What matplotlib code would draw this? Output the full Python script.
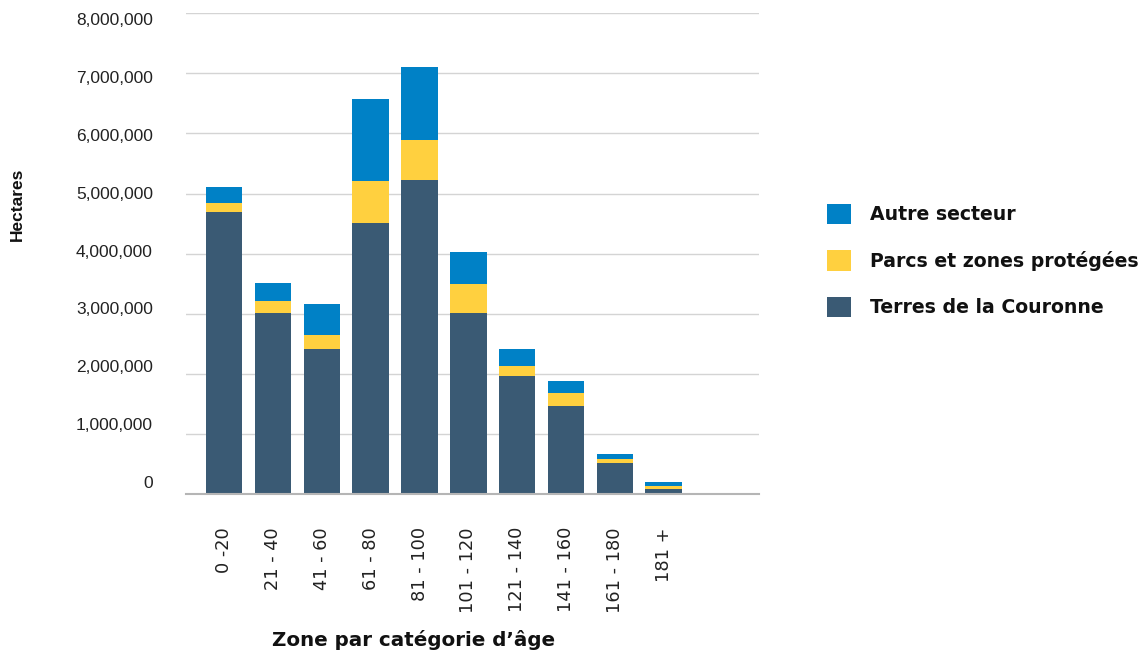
import numpy as np
import matplotlib
matplotlib.use("Agg")
import matplotlib.pyplot as plt
from matplotlib.ticker import FuncFormatter
from matplotlib.transforms import ScaledTranslation

# Age classes (years) and area by tenure (hectares)
categories = ['0 -20', '21 - 40', '41 - 60', '61 - 80', '81 - 100',
              '101 - 120', '121 - 140', '141 - 160', '161 - 180', '181 +']
terres = [4690000, 3020000, 2410000, 4515000, 5220000,
          3020000, 1965000, 1470000, 510000, 83000]
parcs = [150000, 200000, 235000, 700000, 670000,
         480000, 165000, 215000, 67000, 55000]
autre = [275000, 285000, 520000, 1360000, 1215000,
         530000, 285000, 195000, 88000, 57000]
series_labels = ['Terres de la Couronne', 'Parcs et zones protégées', 'Autre secteur']
y_ticks = [0, 1000000, 2000000, 3000000, 4000000, 5000000, 6000000, 7000000, 8000000]

c_dark = '#3a5a74'
c_yellow = '#ffd03f'
c_blue = '#0081c6'

W, H = 1148, 655
fig = plt.figure(figsize=(W / 100, H / 100), dpi=100)
ax = fig.add_axes([186 / W, (H - 494) / H, (758.7 - 186) / W, (494 - 13.3) / H])

x = np.arange(len(categories))
t = np.array(terres)
p = np.array(parcs)
a = np.array(autre)
width = 0.75
b1 = ax.bar(x, t, width, color=c_dark, label=series_labels[0], zorder=2)
b2 = ax.bar(x, p, width, bottom=t, color=c_yellow, label=series_labels[1], zorder=2)
b3 = ax.bar(x, a, width, bottom=t + p, color=c_blue, label=series_labels[2], zorder=2)

ax.set_xlim(-0.782, 10.946)
ax.set_ylim(0, 8000000)
ax.set_yticks(y_ticks)
ax.yaxis.set_major_formatter(FuncFormatter(lambda v, _: f"{int(v):,}"))
ax.set_xticks(x)
ax.set_xticklabels(categories, rotation=90)

ax.grid(axis='y', color='#d4d4d4', linewidth=1.0, zorder=0)
ax.set_axisbelow(True)
for s in ('top', 'left', 'right'):
    ax.spines[s].set_visible(False)
ax.spines['bottom'].set_color('#b5b5b5')
ax.spines['bottom'].set_linewidth(1.5)

ax.tick_params(axis='both', length=0, pad=23.8, colors='#222222')
ax.tick_params(axis='x', labelsize=12.8)
ax.tick_params(axis='y', labelsize=12.5)

# Value labels sit on a slightly tighter spacing than the grid lines
for i, lab in enumerate(ax.get_yticklabels()):
    lab.set_fontfamily(['Liberation Sans', 'DejaVu Sans'])
    dy = 12.3 - 2.29 * i
    lab.set_transform(lab.get_transform() + ScaledTranslation(0, dy / 100, fig.dpi_scale_trans))

fig.text(17.5 / W, (H - 204) / H, 'Hectares', rotation=90, ha='center', va='center',
         fontsize=12.5, fontweight='bold',
         family=['Liberation Sans Narrow', 'Liberation Sans', 'DejaVu Sans'], color='#111111')
fig.text(413.4 / W, (H - 646) / H, 'Zone par catégorie d\u2019âge', ha='center', va='baseline',
         fontsize=14.3, fontweight='bold', color='#111111')

fs = 13.6
fpx = fs * 100 / 72
leg = fig.legend([b3, b2, b1], [series_labels[2], series_labels[1], series_labels[0]],
                 loc='upper left', bbox_to_anchor=(827.3 / W, (H - 204) / H),
                 frameon=False, borderpad=0, borderaxespad=0,
                 handlelength=24 / fpx, handleheight=24 / fpx,
                 handletextpad=(871 - 852.3) / fpx, labelspacing=(50 - 24) / fpx,
                 prop={'size': fs, 'weight': 'bold'})
for txt in leg.get_texts():
    txt.set_color('#111111')

fig.savefig('out.png', dpi=100)
